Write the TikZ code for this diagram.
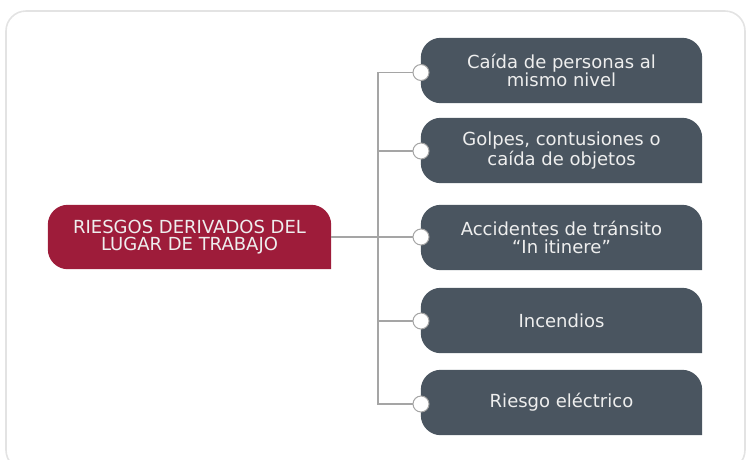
\documentclass[tikz,border=0pt]{standalone}
\usepackage{fontspec}
\setmainfont{DejaVu Sans}
\usetikzlibrary{backgrounds}
\definecolor{slate}{HTML}{4A5560}
\definecolor{wine}{HTML}{9E1C3A}
\definecolor{linegray}{HTML}{A5A5A5}
\definecolor{framegray}{HTML}{E3E3E3}
\definecolor{txt}{HTML}{EEEEEE}
\newcommand{\tabshape}[2]{\fill[#2] (#1.south east) [rounded corners=20pt] -- (#1.south west) -- (#1.north west) -- (#1.north east) [sharp corners] -- cycle;}
\tikzset{
  boxtext/.style={align=center, text=txt, font=\fontsize{18}{17.5}\selectfont, inner sep=0pt},
  itembox/.style={boxtext, minimum width=281pt, minimum height=65pt},
  rootbox/.style={boxtext, minimum width=283pt, minimum height=64pt},
  dot/.style={circle, minimum size=16pt, inner sep=0pt, fill=white, draw=linegray, line width=1pt},
  conn/.style={draw=linegray, line width=1.2pt}
}
\begin{document}
\begin{tikzpicture}[x=1pt,y=-1pt]
\useasboundingbox (0,0) rectangle (748,459);
\draw[framegray, line width=1.6pt, rounded corners=20pt] (6,11) rectangle (745,470);
\node[rootbox] (root) at (189.5,237) {RIESGOS DERIVADOS DEL\\LUGAR DE TRABAJO};
\node[itembox] (b1) at (561.5,70.5) {Caída de personas al\\mismo nivel};
\node[itembox] (b2) at (561.5,150.5) {Golpes, contusiones o\\caída de objetos};
\node[itembox] (b3) at (561.5,237.5) {Accidentes de tránsito\\“In itinere”};
\node[itembox] (b4) at (561.5,320.5) {Incendios};
\node[itembox] (b5) at (561.5,402.5) {Riesgo eléctrico};
\begin{scope}[on background layer]
  \tabshape{root}{wine}
  \foreach \b in {b1,b2,b3,b4,b5} {\tabshape{\b}{slate}}
\end{scope}
\coordinate (bus) at (378,0);
\coordinate (c1) at (421,72.5);
\coordinate (c2) at (421,151);
\coordinate (c3) at (421,237);
\coordinate (c4) at (421,321);
\coordinate (c5) at (421,404);
\draw[conn] (root.east) -- (c3);
\draw[conn] (c1) -- (c1 -| bus) -- (c5 -| bus) -- (c5);
\draw[conn] (c2 -| bus) -- (c2);
\draw[conn] (c4 -| bus) -- (c4);
\node[dot] (d1) at (c1) {};
\node[dot] (d2) at (c2) {};
\node[dot] (d3) at (c3) {};
\node[dot] (d4) at (c4) {};
\node[dot] (d5) at (c5) {};
\end{tikzpicture}
\end{document}
